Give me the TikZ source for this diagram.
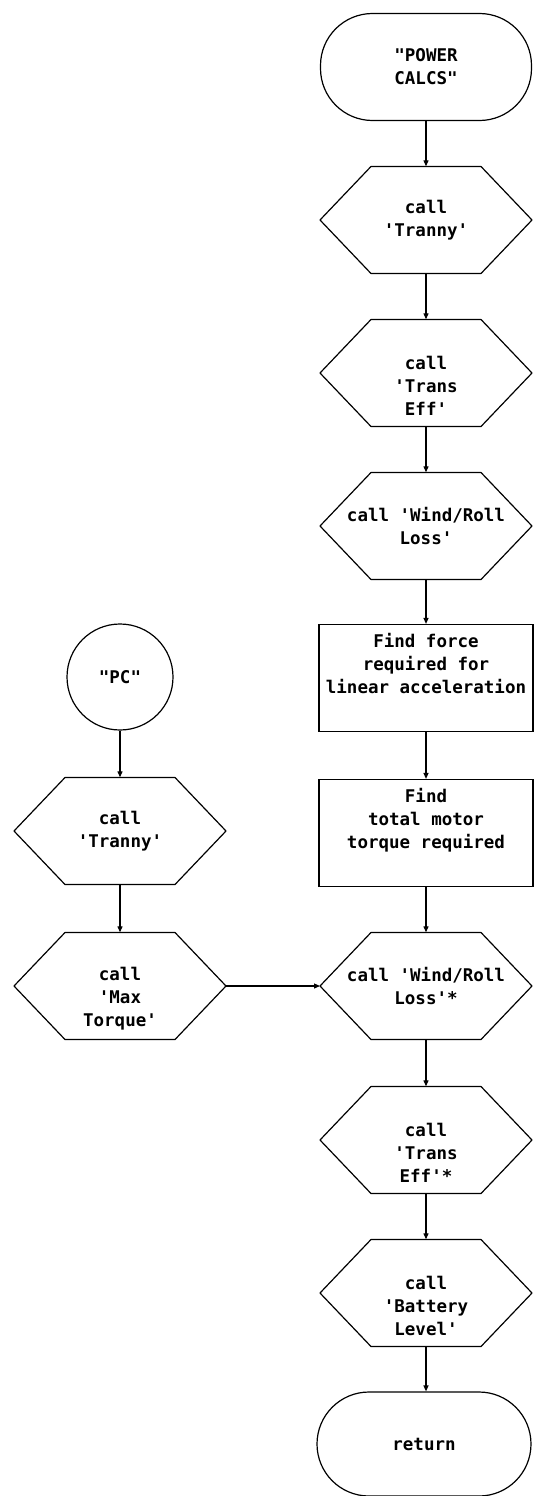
\documentclass[tikz,border=0pt]{standalone}
\usepackage{fontspec}
\setmonofont{DejaVu Sans Mono}
\usetikzlibrary{arrows.meta}
\tikzset{
 base/.style={font=\ttfamily\bfseries\fontsize{17.5}{23}\selectfont, align=center, inner sep=0pt},
 term/.style={base, draw, line width=1.2pt, rounded corners=52pt, minimum width=211pt, minimum height=107pt},
 proc/.style={base, draw, line width=1.2pt, minimum width=214pt, minimum height=107pt},
 hexnode/.style={base, minimum width=110pt, minimum height=107pt},
 conn/.style={circle, base, draw, line width=1.2pt, minimum size=106pt},
 hexline/.style={draw, line width=1.2pt, line join=round},
 flow/.style={draw, line width=1.2pt, -{Triangle[length=6pt,width=5pt]}}
}
\newcommand\hexout[1]{\draw[hexline] ([shift={(-55pt,53.5pt)}]#1.center) -- ([shift={(55pt,53.5pt)}]#1.center) -- ([shift={(106pt,0pt)}]#1.center) -- ([shift={(55pt,-53.5pt)}]#1.center) -- ([shift={(-55pt,-53.5pt)}]#1.center) -- ([shift={(-106pt,0pt)}]#1.center) -- cycle;}
\begin{document}
\begin{tikzpicture}[x=1pt,y=1pt]
\fill[white] (0,0) rectangle (533,-1496);
\useasboundingbox (0,0) rectangle (533,-1496);
% right column
\node[term] (pcalc) at (426,-67) {"POWER\\CALCS"};
\node[hexnode] (h1) at (426,-220) {call\\'Tranny'};
\node[hexnode] (h2) at (426,-373) {\strut\\call\\'Trans\\Eff'};
\node[hexnode] (h3) at (426,-526) {call 'Wind/Roll\\Loss'};
\node[proc] (b1) at (426,-678) {Find force\\required for\\linear acceleration\\\strut};
\node[proc] (b2) at (426,-833) {Find\\total motor\\torque required\\\strut};
\node[hexnode] (h4) at (426,-986) {call 'Wind/Roll\\Loss'*};
\node[hexnode] (h5) at (426,-1140) {\strut\\call\\'Trans\\Eff'*};
\node[hexnode] (h6) at (426,-1293) {\strut\\call\\'Battery\\Level'};
\node[term, minimum width=214pt, minimum height=104pt] (ret) at (424,-1444) {return};
% left column
\node[conn] (pc) at (120,-677) {"PC"};
\node[hexnode] (l1) at (120,-831) {call\\'Tranny'};
\node[hexnode] (l2) at (120,-986) {\strut\\call\\'Max\\Torque'};
% hexagon outlines
\hexout{h1}\hexout{h2}\hexout{h3}\hexout{h4}\hexout{h5}\hexout{h6}
\hexout{l1}\hexout{l2}
\coordinate (l2r) at ([xshift=106pt]l2.center);
\coordinate (h4l) at ([xshift=-106pt]h4.center);
% connectors
\draw[flow] (pcalc.south) -- (h1.north);
\draw[flow] (h1.south) -- (h2.north);
\draw[flow] (h2.south) -- (h3.north);
\draw[flow] (h3.south) -- (b1.north);
\draw[flow] (b1.south) -- (b2.north);
\draw[flow] (b2.south) -- (h4.north);
\draw[flow] (h4.south) -- (h5.north);
\draw[flow] (h5.south) -- (h6.north);
\draw[flow] (h6.south) -- (h6.south |- ret.north);
\draw[flow] (pc.south) -- (l1.north);
\draw[flow] (l1.south) -- (l2.north);
\draw[flow] (l2r) -- (h4l);
\end{tikzpicture}
\end{document}
